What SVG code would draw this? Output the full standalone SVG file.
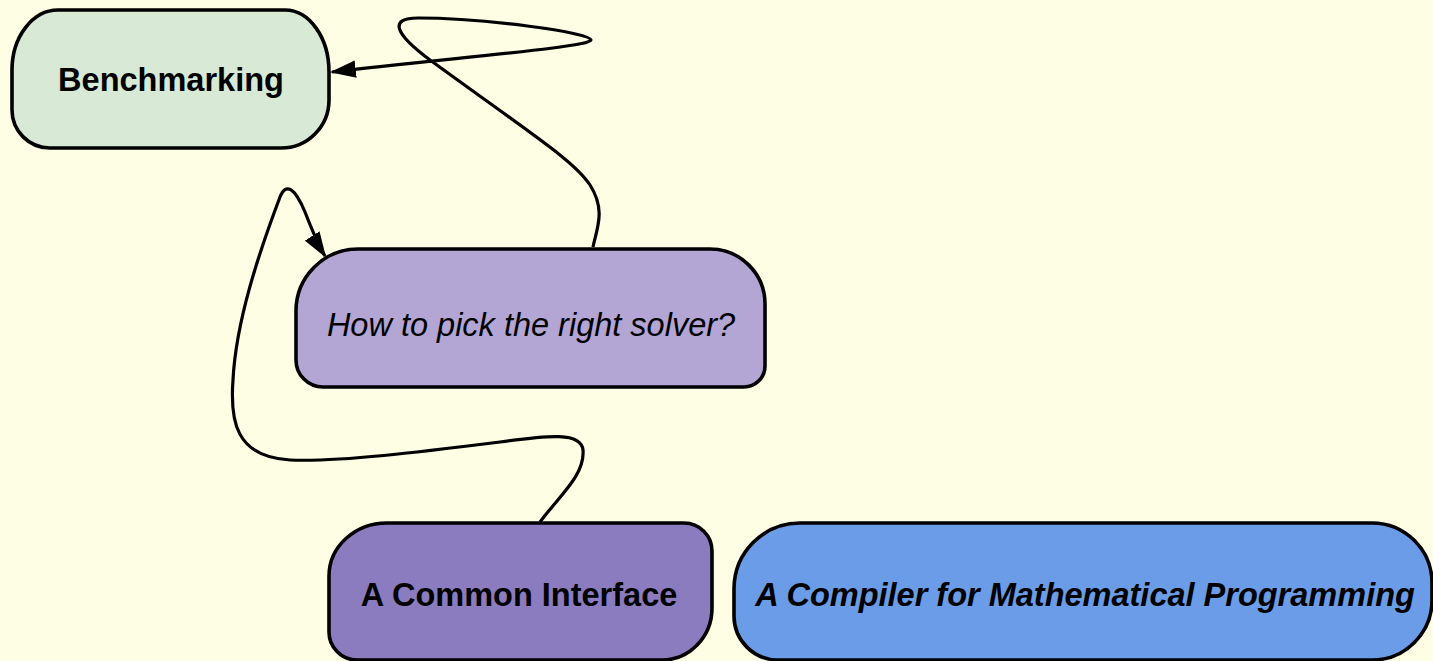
<svg xmlns="http://www.w3.org/2000/svg" width="1433" height="661" viewBox="0 0 1433 661">
<defs>
<style>
.node{stroke:#000;stroke-width:3.6}
.lbl{font-family:"Liberation Sans",Arial,sans-serif;font-size:32.5px;fill:#000;text-anchor:middle}
.b{font-weight:bold}
.i{font-style:italic}
.edge{fill:none;stroke:#000;stroke-width:3.2}
</style>
<marker id="arr" markerUnits="userSpaceOnUse" markerWidth="26" markerHeight="18" refX="22" refY="8" orient="auto" viewBox="0 0 24 16">
<path d="M0,0 L24,8 L0,16 Z" fill="#000"/>
</marker>
</defs>
<rect width="1433" height="661" fill="#FEFEE4"/>
<g id="connectors">
<path class="edge" d="M593,247 C597,228 606,210 590,185 C575,162 540,140 430,60 C395,34 388,18 418,18 C480,18 590,32 591,40 C592,47 450,58 332,72" marker-end="url(#arr)"/>
<path class="edge" d="M540,522 C560,495 585,475 583,450 C581,432 550,435 500,442 C420,452 340,462 290,460 C235,457 230,420 233,380 C236,320 260,250 280,197 C286,182 295,188 305,212 C312,230 318,245 325,256" marker-end="url(#arr)"/>
</g>
<g id="node-benchmarking">
<path class="node" fill="#D8E9D5" d="M58,10 H285 A44,62 0 0 1 329,72 V100 A48,48 0 0 1 281,148 H50 A38,38 0 0 1 12,110 V70 A46,60 0 0 1 58,10 Z"/>
<text class="lbl b" x="171" y="91">Benchmarking</text>
</g>
<g id="node-pick-solver">
<path class="node" fill="#B3A6D4" d="M358,249 H710 A55,55 0 0 1 765,304 V366 A21,21 0 0 1 744,387 H323 A27,27 0 0 1 296,360 V311 A62,62 0 0 1 358,249 Z"/>
<text class="lbl i" x="531" y="336">How to pick the right solver?</text>
</g>
<g id="node-common-interface">
<path class="node" fill="#8B7BBF" d="M387,523 H684 A28,28 0 0 1 712,551 V608 A50,52 0 0 1 662,660 H357 A28,28 0 0 1 329,632 V576 A58,53 0 0 1 387,523 Z"/>
<text class="lbl b" x="519" y="606">A Common Interface</text>
</g>
<g id="node-compiler">
<path class="node" fill="#6B9CE8" d="M800,523 H1372 A60,60 0 0 1 1432,583 V600 A60,60 0 0 1 1372,660 H778 A44,44 0 0 1 734,616 V589 A66,66 0 0 1 800,523 Z"/>
<text class="lbl b i" x="1085" y="606">A Compiler for Mathematical Programming</text>
</g>
</svg>
